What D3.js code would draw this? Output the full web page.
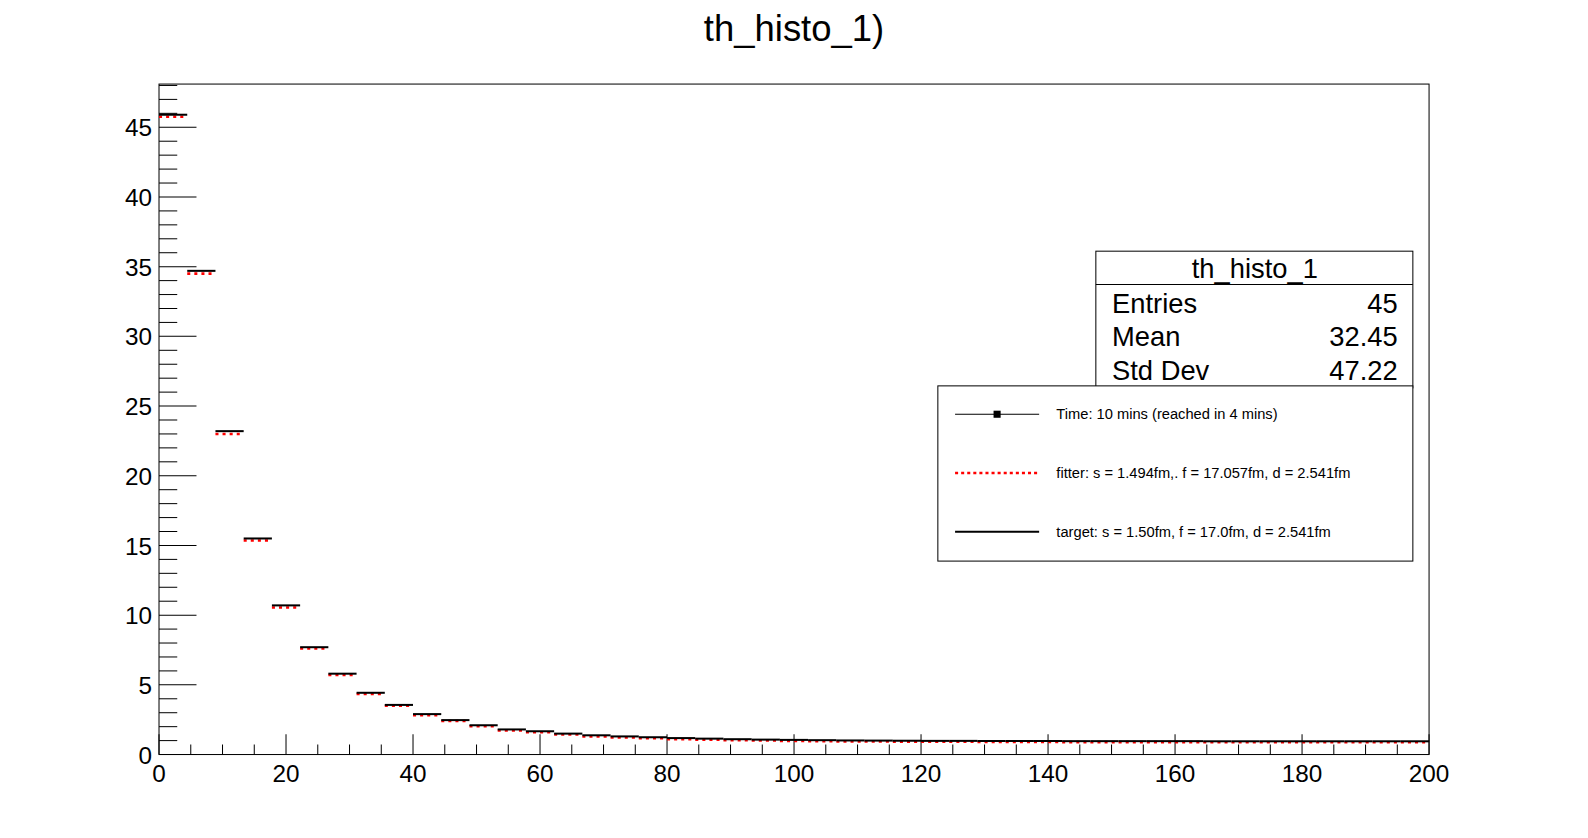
<!DOCTYPE html>
<html>
<head>
<meta charset="utf-8">
<script src="https://cdn.jsdelivr.net/npm/d3@7"></script>
<style>
body { margin:0; background:#fff; overflow:hidden; }
text { font-family: "Liberation Sans", Arial, sans-serif; }
</style>
</head>
<body>
<div id="chart"></div>
<script>
// 45 bins over 0..200
var nBins = 45, xMin = 0, xMax = 200;
var target = [45.9, 34.7, 23.2, 15.5, 10.7, 7.7, 5.8, 4.43, 3.56, 2.9,
  2.47, 2.1, 1.8, 1.67, 1.5, 1.38, 1.3, 1.24, 1.18, 1.14,
  1.1, 1.07, 1.05, 1.03, 1.01, 1.0, 0.99, 0.98, 0.98, 0.97,
  0.97, 0.97, 0.96, 0.96, 0.96, 0.96, 0.96, 0.95, 0.95, 0.95,
  0.95, 0.95, 0.95, 0.95, 0.95];
var fitter = [45.75, 34.5, 23.0, 15.35, 10.55, 7.6, 5.7, 4.35, 3.5, 2.82,
  2.4, 2.03, 1.72, 1.6, 1.43, 1.3, 1.22, 1.17, 1.1, 1.07,
  1.03, 1.0, 0.98, 0.96, 0.94, 0.93, 0.92, 0.91, 0.91, 0.9,
  0.9, 0.9, 0.89, 0.89, 0.89, 0.89, 0.89, 0.88, 0.88, 0.88,
  0.88, 0.88, 0.88, 0.88, 0.88];
var xTicks = [0, 20, 40, 60, 80, 100, 120, 140, 160, 180, 200];
var yTicks = [0, 5, 10, 15, 20, 25, 30, 35, 40, 45];
var statsRows = [["Entries", "45"], ["Mean", "32.45"], ["Std Dev", "47.22"]];
var legendItems = [
  {label: "Time: 10 mins (reached in 4 mins)", kind: "marker"},
  {label: "fitter: s = 1.494fm,. f = 17.057fm, d = 2.541fm", kind: "dotted"},
  {label: "target: s = 1.50fm, f = 17.0fm, d = 2.541fm", kind: "solid"}
];

var W = 1588, H = 838;
var L = 157, R = 1411, T = 83, B = 745;
var svg0 = d3.select("#chart").append("svg").attr("width", W).attr("height", H);
var svg = svg0.append("g").attr("transform", "scale(1.0128)");

var x = d3.scaleLinear().domain([xMin, xMax]).range([L, R]);
var y = d3.scaleLinear().domain([0, 48.1]).range([B, T]);
var bw = (xMax - xMin) / nBins;

svg.append("text").attr("x", 784).attr("y", 40).attr("text-anchor", "middle")
  .attr("font-size", 36).text("th_histo_1)");

svg.append("rect").attr("x", L).attr("y", T).attr("width", R - L).attr("height", B - T)
  .attr("fill", "none").attr("stroke", "#000").attr("stroke-width", 1);

// x ticks (inward), minor every 5
var gx = svg.append("g").attr("transform", "translate(0," + B + ")");
d3.range(0, 201, 5).forEach(function(v) {
  var major = v % 20 === 0;
  gx.append("line").attr("x1", x(v)).attr("x2", x(v)).attr("y1", 0).attr("y2", major ? -20 : -10)
    .attr("stroke", "#000");
});
xTicks.forEach(function(v) {
  gx.append("text").attr("x", x(v)).attr("y", 27).attr("text-anchor", "middle")
    .attr("font-size", 24).text(v);
});

var gy = svg.append("g");
d3.range(0, 49, 1).forEach(function(v) {
  var major = v % 5 === 0;
  gy.append("line").attr("x1", L).attr("x2", L + (major ? 37 : 18)).attr("y1", y(v)).attr("y2", y(v))
    .attr("stroke", "#000");
});
yTicks.forEach(function(v) {
  gy.append("text").attr("x", 150).attr("y", y(v) + 9).attr("text-anchor", "end")
    .attr("font-size", 24).text(v);
});

// histograms
svg.append("g").selectAll("line").data(fitter).enter().append("line")
  .attr("x1", function(d, i) { return x(i * bw); })
  .attr("x2", function(d, i) { return x((i + 1) * bw); })
  .attr("y1", function(d) { return y(d); }).attr("y2", function(d) { return y(d); })
  .attr("stroke", "#f00").attr("stroke-width", 2.5).attr("stroke-dasharray", "3,4");
svg.append("g").selectAll("line").data(target).enter().append("line")
  .attr("x1", function(d, i) { return x(i * bw); })
  .attr("x2", function(d, i) { return x((i + 1) * bw); })
  .attr("y1", function(d) { return y(d); }).attr("y2", function(d) { return y(d); })
  .attr("stroke", "#000").attr("stroke-width", 2);

// stats box
var sb = svg.append("g");
sb.append("rect").attr("x", 1082).attr("y", 248).attr("width", 313).attr("height", 135)
  .attr("fill", "#fff").attr("stroke", "#000");
sb.append("line").attr("x1", 1082).attr("x2", 1395).attr("y1", 281).attr("y2", 281).attr("stroke", "#000");
sb.append("text").attr("x", 1239).attr("y", 274).attr("text-anchor", "middle").attr("font-size", 27).text("th_histo_1");
statsRows.forEach(function(r, i) {
  var yy = 309 + i * 33;
  sb.append("text").attr("x", 1098).attr("y", yy).attr("font-size", 27).text(r[0]);
  sb.append("text").attr("x", 1380).attr("y", yy).attr("text-anchor", "end").attr("font-size", 27).text(r[1]);
});

// legend
var lg = svg.append("g");
lg.append("rect").attr("x", 926).attr("y", 381).attr("width", 469).attr("height", 173)
  .attr("fill", "#fff").attr("stroke", "#000");
legendItems.forEach(function(it, i) {
  var yy = 409 + i * 58;
  if (it.kind === "marker") {
    lg.append("line").attr("x1", 943).attr("x2", 1026).attr("y1", yy).attr("y2", yy).attr("stroke", "#000");
    lg.append("rect").attr("x", 981).attr("y", yy - 3.5).attr("width", 7).attr("height", 7).attr("fill", "#000");
  } else if (it.kind === "dotted") {
    lg.append("line").attr("x1", 943).attr("x2", 1026).attr("y1", yy).attr("y2", yy)
      .attr("stroke", "#f00").attr("stroke-width", 2.5).attr("stroke-dasharray", "3,3");
  } else {
    lg.append("line").attr("x1", 943).attr("x2", 1026).attr("y1", yy).attr("y2", yy)
      .attr("stroke", "#000").attr("stroke-width", 2);
  }
  lg.append("text").attr("x", 1043).attr("y", yy + 5).attr("font-size", 14.5).text(it.label);
});
</script>
</body>
</html>
